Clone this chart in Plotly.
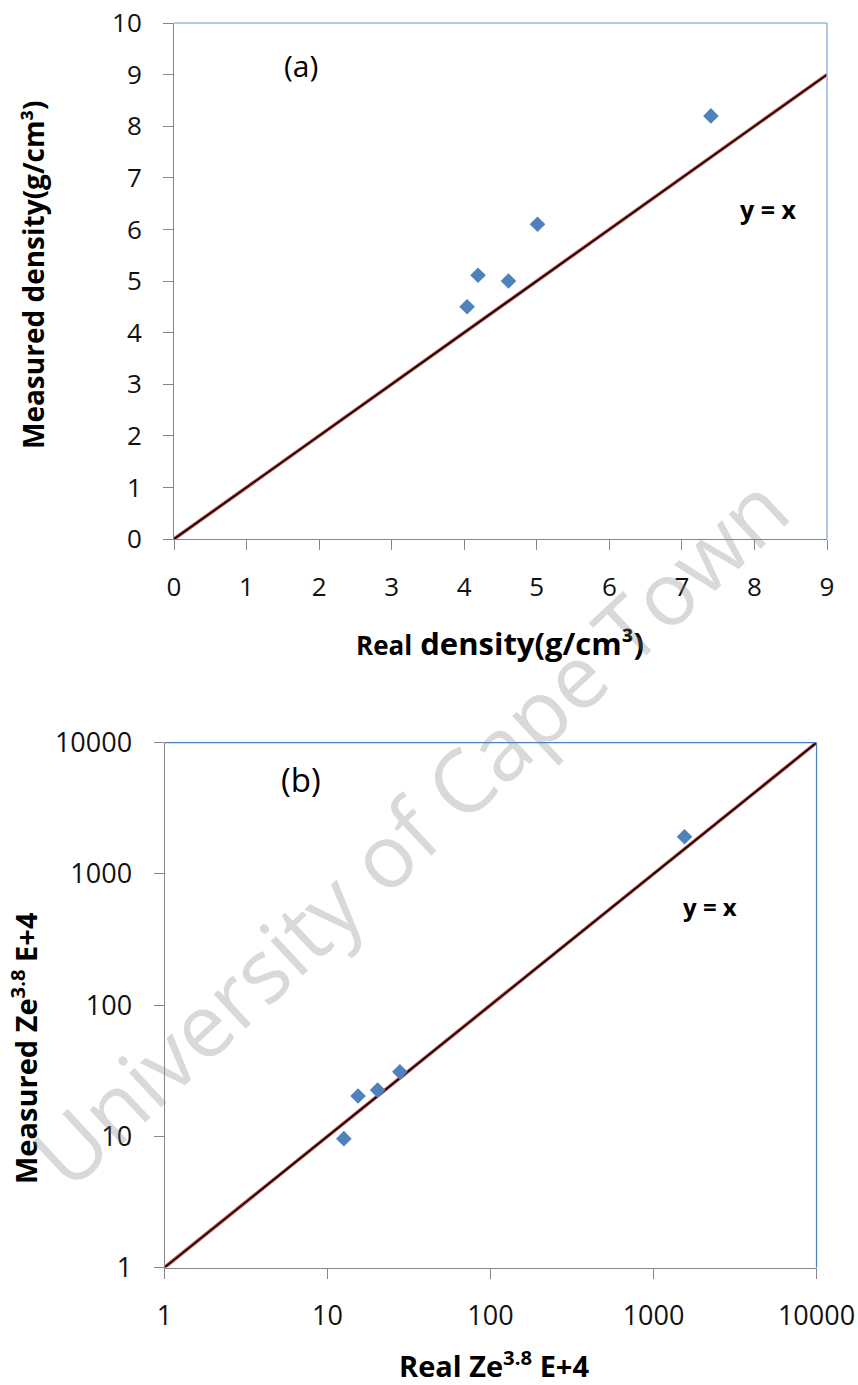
import plotly.graph_objects as go

# ---- data ----
real_density = [4.04, 4.19, 4.61, 5.01, 7.40]
measured_density = [4.50, 5.11, 5.00, 6.10, 8.20]
line_a = [0, 9]

real_ze = [12.6, 15.4, 20.3, 27.8, 1550]
measured_ze = [9.6, 20.3, 22.5, 31.0, 1920]
line_b = [1, 10000]

xticks_a = list(range(0, 10))
yticks_a = list(range(0, 11))
log_ticks = [1, 10, 100, 1000, 10000]
log_ticktext = ["1", "10", "100", "1000", "10000"]

W, H = 858, 1385
FONT = "Open Sans"
MARK = "#4f81bd"
AX = "#868686"
RED = "#c0504d"

fig = go.Figure()

# panel (a)
fig.add_trace(go.Scatter(x=line_a, y=line_a, mode="lines", line=dict(color=RED, width=3.6),
                         xaxis="x", yaxis="y", showlegend=False, hoverinfo="skip"))
fig.add_trace(go.Scatter(x=line_a, y=line_a, mode="lines", line=dict(color="#000000", width=1.5),
                         xaxis="x", yaxis="y", showlegend=False, hoverinfo="skip"))
fig.add_trace(go.Scatter(x=real_density, y=measured_density, mode="markers",
                         marker=dict(symbol="diamond", size=12, color=MARK),
                         xaxis="x", yaxis="y", showlegend=False))

# panel (b)
fig.add_trace(go.Scatter(x=line_b, y=line_b, mode="lines", line=dict(color=RED, width=3.6),
                         xaxis="x2", yaxis="y2", showlegend=False, hoverinfo="skip"))
fig.add_trace(go.Scatter(x=line_b, y=line_b, mode="lines", line=dict(color="#000000", width=1.5),
                         xaxis="x2", yaxis="y2", showlegend=False, hoverinfo="skip"))
fig.add_trace(go.Scatter(x=real_ze, y=measured_ze, mode="markers",
                         marker=dict(symbol="diamond", size=12, color=MARK),
                         xaxis="x2", yaxis="y2", showlegend=False))

def px_x(p):
    return p / W

def px_y(p):
    return 1 - p / H

common = dict(showgrid=False, zeroline=False, showline=True, linecolor=AX, linewidth=1,
              ticks="outside", ticklen=10, tickcolor=AX, tickwidth=1, mirror=False,
              automargin=False)

fig.update_layout(
    width=W, height=H, margin=dict(l=0, r=0, t=0, b=0, autoexpand=False),
    paper_bgcolor="white", plot_bgcolor="white",
    font=dict(family=FONT, color="#000000"),
    xaxis=dict(domain=[px_x(174), px_x(827)], anchor="y", range=[0, 9],
               tickvals=xticks_a, ticklabelstandoff=15,
               tickfont=dict(size=26, family=FONT, color="#111"), **common),
    yaxis=dict(domain=[px_y(539), px_y(23)], anchor="x", range=[0, 10],
               tickvals=yticks_a, ticklabelstandoff=16,
               tickfont=dict(size=26, family=FONT, color="#111"), **common),
    xaxis2=dict(domain=[px_x(164.5), px_x(816.5)], anchor="y2", type="log", range=[0, 4],
                tickvals=log_ticks, ticktext=log_ticktext, ticklabelstandoff=14,
                tickfont=dict(size=27, family=FONT, color="#111"), **common),
    yaxis2=dict(domain=[px_y(1267.5), px_y(742.7)], anchor="x2", type="log", range=[0, 4],
                tickvals=log_ticks, ticktext=log_ticktext, ticklabelstandoff=16,
                tickfont=dict(size=27, family=FONT, color="#111"), **common),
)

shapes = [
    dict(type="line", xref="x domain", yref="y domain", x0=0, x1=1, y0=1, y1=1,
         line=dict(color="#6f97c9", width=1.2)),
    dict(type="line", xref="x domain", yref="y domain", x0=1, x1=1, y0=0, y1=1,
         line=dict(color="#95b3d7", width=1.5)),
    dict(type="line", xref="x2 domain", yref="y2 domain", x0=0, x1=1, y0=1, y1=1,
         line=dict(color="#4a7ebb", width=1.2)),
    dict(type="line", xref="x2 domain", yref="y2 domain", x0=1, x1=1, y0=0, y1=1,
         line=dict(color="#4a7ebb", width=1.2)),
]
fig.update_layout(shapes=shapes)

def ann(text, x, y, size, bold=False, angle=0, color="#000", **kw):
    t = f"<b>{text}</b>" if bold else text
    return dict(text=t, x=px_x(x), y=px_y(y), xref="paper", yref="paper",
                showarrow=False, textangle=angle, xanchor="center", yanchor="middle",
                font=dict(size=size, family=FONT, color=color), **kw)

annotations = [
    ann("(a)", 301, 65, 30),
    ann("y = x", 768, 209, 25, bold=True),
    ann("<span style='font-size:26px'>Real</span> density(g/cm³)", 500, 643, 31, bold=True),
    ann("Measured density(g/cm³)", 33, 275, 28, bold=True, angle=-90),
    ann("(b)", 301, 779, 33),
    ann("y = x", 710, 906, 24, bold=True),
    ann("Real Ze<sup>3.8</sup> E+4", 494, 1364, 29, bold=True),
    ann("Measured Ze<sup>3.8</sup> E+4", 24, 1048, 29, bold=True, angle=-90),
    ann("University of Cape Town", 409, 830, 88, angle=-43, color="rgba(128,128,128,0.3)"),
]
fig.update_layout(annotations=annotations)

fig.write_html("out.html", config={"displayModeBar": False},
               post_script="document.body.style.margin='0';document.body.style.overflow='hidden';")
